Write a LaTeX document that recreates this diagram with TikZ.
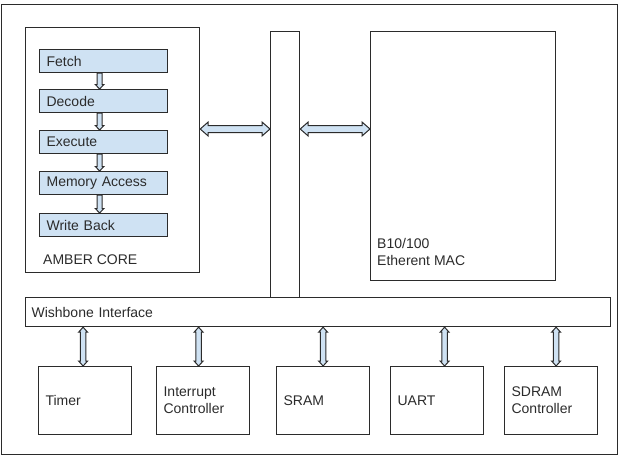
\documentclass[tikz,border=0pt]{standalone}
\usepackage{fontspec}
\setmainfont{Liberation Sans}
\usetikzlibrary{calc}
\definecolor{lb}{HTML}{CFE2F3}
\definecolor{ln}{HTML}{2B2B2B}
\newcommand{\hdarrow}[2]{%
 \draw[barrow] let \p1=(#1), \p2=(#2) in
  (\x1,\y1) -- (\x1+8pt,\y1+7pt) -- (\x1+8pt,\y1+3.5pt) -- (\x2-8pt,\y1+3.5pt) -- (\x2-8pt,\y1+7pt)
  -- (\x2,\y1) -- (\x2-8pt,\y1-7pt) -- (\x2-8pt,\y1-3.5pt) -- (\x1+8pt,\y1-3.5pt) -- (\x1+8pt,\y1-7pt) -- cycle;}
\newcommand{\vdarrow}[2]{%
 \draw[barrow] let \p1=(#1), \p2=(#2) in
  (\x1,\y1) -- (\x1+4.5pt,\y1-5pt) -- (\x1+2.7pt,\y1-5pt) -- (\x1+2.7pt,\y2+5pt) -- (\x1+4.5pt,\y2+5pt)
  -- (\x1,\y2) -- (\x1-4.5pt,\y2+5pt) -- (\x1-2.7pt,\y2+5pt) -- (\x1-2.7pt,\y1-5pt) -- (\x1-4.5pt,\y1-5pt) -- cycle;}
\newcommand{\vsarrow}[2]{%
 \draw[barrow] let \p1=(#1), \p2=(#2) in
  (\x1-2.5pt,\y1) -- (\x1+2.5pt,\y1) -- (\x1+2.5pt,\y2+4.5pt) -- (\x1+4.3pt,\y2+4.5pt)
  -- (\x1,\y2) -- (\x1-4.3pt,\y2+4.5pt) -- (\x1-2.5pt,\y2+4.5pt) -- cycle;}
\begin{document}
\begin{tikzpicture}[x=1pt,y=-1pt,
  font=\fontsize{14}{17}\selectfont, text=ln,
  box/.style={draw=ln, line width=1.2pt, inner sep=0pt, anchor=north west},
  stage/.style={box, fill=lb, minimum width=128pt, minimum height=23pt, text width=114pt, inner xsep=7pt, align=left},
  periph/.style={box, minimum width=93pt, minimum height=68pt, text width=79pt, inner xsep=7pt, align=left},
  lbl/.style={inner sep=0pt, align=left},
  barrow/.style={draw=ln, fill=lb, line width=1pt, line join=miter}]
\useasboundingbox (0,0) rectangle (621,458);
\node[box, line width=1.4pt, minimum width=616pt, minimum height=450pt] (frame) at (1,4) {};
% Amber core
\node[box, minimum width=174pt, minimum height=245pt] (core) at (25,27) {};
\node[lbl, anchor=west] (corel) at ($(core.south west)+(18,-14)$) {AMBER CORE};
\node[stage] (fetch) at (39,49) {Fetch};
\node[stage] (decode) at (39,89) {Decode};
\node[stage] (exec) at (39,130) {Execute};
\node[stage] (mem) at (39,171) {Memory Access};
\node[stage] (wb) at (39,213) {Write Back};
% bus and MAC
\node[box, minimum width=29pt, minimum height=266pt] (bus) at (270,31) {};
\node[box, minimum width=185pt, minimum height=249pt] (mac) at (370,31) {};
\node[lbl, anchor=south west] (macl) at ($(mac.south west)+(7,-15)$) {B10/100\\Etherent MAC};
% wishbone
\node[box, minimum width=585pt, minimum height=29pt, text width=573pt, inner xsep=6pt, align=left] (wish) at (25,297) {Wishbone Interface};
% peripherals
\node[periph] (timer) at (38,366) {Timer};
\node[periph] (intc) at (156,366) {Interrupt\\Controller};
\node[periph] (sram) at (276,366) {SRAM};
\node[periph] (uart) at (390,366) {UART};
\node[periph] (sdram) at (504,366) {SDRAM\\Controller};
% stage arrows
\vsarrow{$(fetch.south)+(-4,0)$}{$(decode.north)+(-4,0)$}
\vsarrow{$(decode.south)+(-4,0)$}{$(exec.north)+(-4,0)$}
\vsarrow{$(exec.south)+(-4,0)$}{$(mem.north)+(-4,0)$}
\vsarrow{$(mem.south)+(-4,0)$}{$(wb.north)+(-4,0)$}
% horizontal arrows
\hdarrow{core.east |- 0,129}{bus.west |- 0,129}
\hdarrow{bus.east |- 0,129}{mac.west |- 0,129}
% vertical arrows
\vdarrow{$(wish.south -| timer.north)+(-2,0)$}{$(timer.north)+(-2,0)$}
\vdarrow{$(wish.south -| intc.north)+(-4.5,0)$}{$(intc.north)+(-4.5,0)$}
\vdarrow{$(wish.south -| sram.north)+(0,0)$}{$(sram.north)+(0,0)$}
\vdarrow{$(wish.south -| uart.north)+(7.5,0)$}{$(uart.north)+(7.5,0)$}
\vdarrow{$(wish.south -| sdram.north)+(5,0)$}{$(sdram.north)+(5,0)$}
\end{tikzpicture}
\end{document}
